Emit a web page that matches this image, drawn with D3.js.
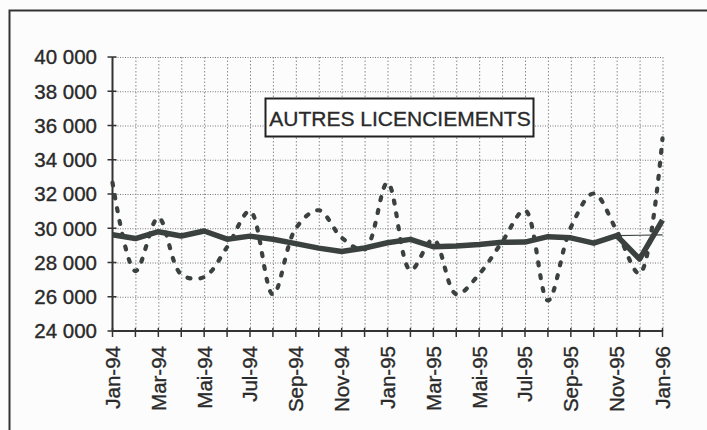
<!DOCTYPE html>
<html lang="fr">
<head>
<meta charset="UTF-8">
<title>Autres licenciements</title>
<script src="https://cdn.jsdelivr.net/npm/d3@7"></script>
<style>
  body { margin: 0; background: #fcfcfc; }
  text { font-family: "Liberation Sans", Arial, sans-serif; fill: #2a2a2a; stroke: #2a2a2a; stroke-width: 0.35px; }
</style>
</head>
<body>
<script>
// months Jan-94 .. Jan-96
var months = ["Jan-94","Fév-94","Mar-94","Avr-94","Mai-94","Jun-94","Jul-94","Aoû-94","Sep-94","Oct-94","Nov-94","Déc-94",
              "Jan-95","Fév-95","Mar-95","Avr-95","Mai-95","Jun-95","Jul-95","Aoû-95","Sep-95","Oct-95","Nov-95","Déc-95","Jan-96"];
var tickLabels = ["Jan-94","Mar-94","Mai-94","Jul-94","Sep-94","Nov-94","Jan-95","Mar-95","Mai-95","Jul-95","Sep-95","Nov-95","Jan-96"];
var yTicks = [24000, 26000, 28000, 30000, 32000, 34000, 36000, 38000, 40000];

// raw series (dashed)
var brute = [32660, 27500, 30620, 27300, 27150, 28900, 31000, 26130, 30000, 31050, 29450, 28760,
             32660, 27550, 29350, 26150, 27320, 29200, 31050, 25780, 30050, 32030, 29860, 27350, 35250];
// adjusted series (thick)
var cvs = [29620, 29400, 29800, 29550, 29840, 29360, 29540, 29360, 29100, 28840, 28640, 28850,
           29150, 29350, 28920, 28960, 29050, 29180, 29190, 29510, 29440, 29130, 29570, 28200, 30480];
// thin segment at the end
var thinMonths = ["Nov-95", "Déc-95", "Jan-96"];
var thinVals = [29570, 29590, 29610];

var W = 707, H = 430;
var svg = d3.select("body").append("svg").attr("width", W).attr("height", H);

var x = d3.scalePoint().domain(months).range([112.5, 662.5]);
var y = d3.scaleLinear().domain([24000, 40000]).range([331, 57]);

// outer frame
svg.append("path").attr("d", "M9.5,432 V10.5 H710")
  .attr("fill", "none").attr("stroke", "#333").attr("stroke-width", 2);

// grid
var grid = svg.append("g");
grid.selectAll(".hg").data(yTicks.slice(1)).enter().append("line")
  .attr("x1", x.range()[0]).attr("x2", x.range()[1])
  .attr("y1", function (d) { return y(d) + 0.5; }).attr("y2", function (d) { return y(d) + 0.5; })
  .attr("stroke", "#777").attr("stroke-width", 1).attr("stroke-dasharray", "1,1.5");
grid.selectAll(".vg").data(months.slice(1)).enter().append("line")
  .attr("x1", function (d) { return x(d) + 0.5; }).attr("x2", function (d) { return x(d) + 0.5; })
  .attr("y1", y(40000)).attr("y2", y(24000))
  .attr("stroke", "#888").attr("stroke-width", 1).attr("stroke-dasharray", "1.5,2");

// axes
var axisCol = "#333";
svg.append("line").attr("x1", x.range()[0]).attr("x2", x.range()[0])
  .attr("y1", y(40000)).attr("y2", y(24000)).attr("stroke", axisCol).attr("stroke-width", 2);
svg.append("line").attr("x1", x.range()[0]).attr("x2", x.range()[1])
  .attr("y1", y(24000)).attr("y2", y(24000)).attr("stroke", axisCol).attr("stroke-width", 2);

svg.selectAll(".yt").data(yTicks).enter().append("line")
  .attr("x1", x.range()[0] - 5).attr("x2", x.range()[0] + 4)
  .attr("y1", function (d) { return y(d); }).attr("y2", function (d) { return y(d); })
  .attr("stroke", axisCol).attr("stroke-width", 1.5);
svg.selectAll(".xt").data(months).enter().append("line")
  .attr("x1", function (d) { return x(d); }).attr("x2", function (d) { return x(d); })
  .attr("y1", y(24000) - 3).attr("y2", y(24000) + 6)
  .attr("stroke", axisCol).attr("stroke-width", 1.5);

var fmt = function (d) { return d3.format(",")(d).replace(",", " "); };
svg.selectAll(".yl").data(yTicks).enter().append("text")
  .attr("x", 97).attr("y", function (d) { return y(d); }).attr("dy", "0.36em")
  .attr("text-anchor", "end").style("font-size", "20.5px").text(fmt);

svg.selectAll(".xl").data(tickLabels).enter().append("text")
  .attr("transform", function (d) { return "translate(" + x(d) + "," + (y(24000) + 15) + ") rotate(-90)"; })
  .attr("dy", "0.36em").attr("text-anchor", "end").style("font-size", "20.5px").text(function (d) { return d; });

// series
var line = d3.line().x(function (d, i) { return x(months[i]); }).y(function (d) { return y(d); });

svg.append("path").datum(brute)
  .attr("d", line.curve(d3.curveCatmullRom.alpha(0.5)))
  .attr("fill", "none").attr("stroke", "#3a413e").attr("stroke-width", 4.2)
  .attr("stroke-linecap", "round").attr("stroke-dasharray", "3,10");

svg.append("path").datum(thinVals)
  .attr("d", d3.line().x(function (d, i) { return x(thinMonths[i]); }).y(function (d) { return y(d); }))
  .attr("fill", "none").attr("stroke", "#3a413e").attr("stroke-width", 1.2);

svg.append("path").datum(cvs)
  .attr("d", line.curve(d3.curveLinear))
  .attr("fill", "none").attr("stroke", "#3a413e").attr("stroke-width", 5.5)
  .attr("stroke-linejoin", "round");

// title box
var tb = svg.append("g");
tb.append("rect").attr("x", 265.5).attr("y", 98.5).attr("width", 268).attr("height", 38)
  .attr("fill", "#fff").attr("stroke", "#222").attr("stroke-width", 2);
tb.append("text").attr("x", 400).attr("y", 118.5).attr("dy", "0.36em")
  .attr("text-anchor", "middle").style("font-size", "21px").text("AUTRES LICENCIEMENTS");
</script>
</body>
</html>
